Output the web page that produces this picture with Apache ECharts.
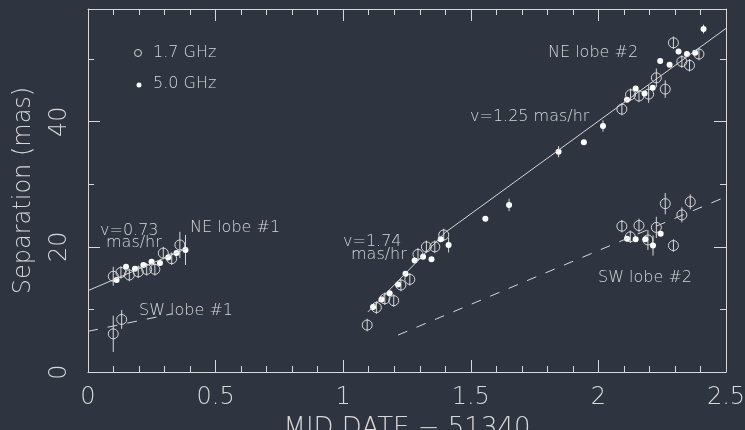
<!DOCTYPE html>
<html>
<head>
<meta charset="utf-8">
<script src="https://cdn.jsdelivr.net/npm/echarts@6/dist/echarts.min.js"></script>
<style>
  html, body { margin: 0; padding: 0; background: #2e3440; }
  #chart { width: 745px; height: 430px; }
</style>
</head>
<body>
<div id="chart"></div>
<script>
let d = document;

// [MJD - 51340, separation (mas), error (mas)]
// 1.7 GHz (open circles)
const ne1Open = [[0.099,15.3,1.5],[0.129,15.9,1.0],[0.162,15.5,1.0],[0.197,16.0,1.0],[0.230,16.4,1.0],[0.262,16.4,1.0],[0.295,19.0,1.0],[0.328,18.1,1.0],[0.360,20.3,2.1]];
const sw1Open = [[0.099,6.1,2.9],[0.132,8.4,1.5]];
const ne2Open = [[1.094,7.5,1.0],[1.130,10.3,1.0],[1.163,11.7,1.0],[1.198,11.4,1.0],[1.226,13.9,1.0],[1.261,14.8,1.0],[1.293,18.8,1.0],[1.326,20.0,1.0],[1.359,20.0,1.0],[1.394,21.9,1.0],
  [2.092,42.0,1.0],[2.126,44.3,1.0],[2.159,44.1,1.0],[2.197,44.4,1.4],[2.227,47.0,1.5],[2.262,45.2,1.4],[2.294,52.6,1.0],[2.327,49.6,1.0],[2.357,49.0,1.0],[2.394,50.8,1.0]];
const sw2Open = [[2.092,23.3,1.0],[2.125,21.6,1.0],[2.159,23.4,1.1],[2.194,21.1,1.6],[2.227,23.1,1.7],[2.262,26.9,1.7],[2.294,20.2,1.0],[2.327,25.1,1.2],[2.360,27.2,1.2]];

// 5.0 GHz (filled dots)
const ne1Dot = [[0.112,14.7,0],[0.149,16.8,0],[0.184,16.5,0],[0.217,17.1,0],[0.249,17.6,0],[0.282,17.4,0],[0.314,18.3,0],[0.347,19.0,0],[0.382,19.5,2.4]];
const ne2Dot = [[1.117,10.4,0],[1.150,11.6,0],[1.182,12.6,0],[1.215,14.0,0],[1.244,15.7,0],[1.280,17.8,0],[1.313,18.4,0],[1.346,18.0,0],[1.382,21.2,0],[1.413,20.3,1.2],
  [1.557,24.5,0],[1.650,26.7,1.0],[1.844,35.2,0.9],[1.943,36.7,0],[2.018,39.3,0.9],
  [2.112,43.5,0],[2.146,45.3,0],[2.181,44.5,0],[2.213,45.4,0],[2.242,49.7,0],[2.279,49.1,0],[2.314,51.2,0],[2.347,50.8,0],[2.379,51.0,0],[2.412,54.8,0.7]];
const sw2Dot = [[2.112,21.3,0],[2.146,21.2,0],[2.184,21.2,0],[2.214,20.2,1.6],[2.244,22.1,0]];

// fitted motions
const ne1Fit = [[0, 13.0], [0.39, 19.8]];
const sw1Fit = [[0, 6.5], [0.33, 9.3]];
const ne2FitA = [[1.097, 9.6], [1.40, 22.3]];
const ne2FitB = [[1.40, 22.3], [2.5, 54.9]];
const sw2Fit = [[1.215, 5.9], [2.5, 28.0]];

const xTicks = [0, 0.5, 1, 1.5, 2, 2.5];
const yTicks = [0, 20, 40];

const ink = "#d8d8d8";
const thin = "DejaVu Sans";

function pts(filled) {
  return function (params, api) {
    let x = api.value(0), y = api.value(1), e = api.value(2);
    let p = api.coord([x, y]);
    let kids = [];
    if (e > 0) {
      let t = api.coord([x, y + e]);
      let b = api.coord([x, y - e]);
      kids.push({ type: "line", shape: { x1: p[0], y1: t[1], x2: p[0], y2: b[1] },
        style: { stroke: ink, lineWidth: 1 } });
    }
    if (filled) {
      kids.push({ type: "circle", shape: { cx: p[0], cy: p[1], r: 3 }, style: { fill: "#ffffff" } });
    } else {
      kids.push({ type: "circle", shape: { cx: p[0], cy: p[1], r: 5 }, style: { fill: "none", stroke: ink, lineWidth: 1 } });
    }
    return { type: "group", children: kids };
  };
}

function ptSeries(data, filled) {
  return { type: "custom", renderItem: pts(filled), data: data, silent: true, z: 3 };
}

function fitSeries(data, dashed) {
  return { type: "line", data: data, symbol: "none", silent: true,
    lineStyle: { color: ink, width: 1, type: dashed ? [10, 10] : "solid" } };
}

function yAx(pos, interval, len, labels) {
  return {
    type: "value", position: pos, min: 0, max: 58, interval: interval,
    axisLine: { show: interval === 20, lineStyle: { color: ink, width: 1 } },
    axisTick: { show: true, inside: true, length: len, lineStyle: { color: ink } },
    axisLabel: labels ? {
      show: true, rotate: 90, margin: 16, color: ink, fontSize: 24, fontFamily: thin, fontWeight: 200,
      showMaxLabel: false,
      formatter: (v) => (yTicks.indexOf(v) >= 0 ? String(v) : "")
    } : { show: false },
    splitLine: { show: false },
    name: labels ? "Separation (mas)" : "",
    nameLocation: "middle", nameGap: 52,
    nameTextStyle: { color: ink, fontSize: 24, fontFamily: thin, fontWeight: 200 }
  };
}

function xAx(pos, labels) {
  return {
    type: "value", position: pos, min: 0, max: 2.5, interval: 0.5,
    axisLine: { show: true, onZero: false, lineStyle: { color: ink, width: 1 } },
    axisTick: { show: true, inside: true, length: 12, lineStyle: { color: ink } },
    minorTick: { show: true, splitNumber: 5, length: 6, lineStyle: { color: ink } },
    axisLabel: labels ? {
      show: true, margin: 14, color: ink, fontSize: 24, fontFamily: thin, fontWeight: 200,
      formatter: (v) => (xTicks.indexOf(v) >= 0 ? String(v) : "")
    } : { show: false },
    splitLine: { show: false },
    name: labels ? "MJD DATE \u2212 51340" : "",
    nameLocation: "middle", nameGap: 44,
    nameTextStyle: { color: ink, fontSize: 26, fontFamily: thin, fontWeight: 200 }
  };
}

function txt(x, y, s) {
  return { type: "text", left: x, top: y - 9, silent: true,
    style: { text: s, fill: ink, fontSize: 16, fontFamily: thin, fontWeight: 200 } };
}

let chart = echarts.init(d.getElementById("chart"), null, { renderer: "canvas" });

chart.setOption({
  backgroundColor: "#2e3440",
  animation: false,
  grid: { left: 88, top: 9, right: 19, bottom: 58, containLabel: false, outerBoundsMode: "none" },
  xAxis: [xAx("bottom", true), xAx("top", false)],
  yAxis: [yAx("left", 20, 12, true), yAx("left", 10, 6, false), yAx("right", 20, 12, false), yAx("right", 10, 6, false)],
  series: [
    fitSeries(ne1Fit, false),
    fitSeries(sw1Fit, true),
    fitSeries(ne2FitA, false),
    fitSeries(ne2FitB, false),
    fitSeries(sw2Fit, true),
    ptSeries(ne1Open, false),
    ptSeries(sw1Open, false),
    ptSeries(ne2Open, false),
    ptSeries(sw2Open, false),
    ptSeries(ne1Dot, true),
    ptSeries(ne2Dot, true),
    ptSeries(sw2Dot, true)
  ],
  graphic: [
    { type: "circle", shape: { cx: 138, cy: 53, r: 3.5 }, style: { fill: "none", stroke: ink, lineWidth: 1 }, silent: true },
    { type: "circle", shape: { cx: 139, cy: 85, r: 2.5 }, style: { fill: "#ffffff" }, silent: true },
    txt(153, 54, "1.7 GHz"),
    txt(153, 85, "5.0 GHz"),
    txt(190, 229, "NE lobe #1"),
    txt(100, 232, "v=0.73"),
    txt(106, 244, "mas/hr"),
    txt(139, 312, "SW lobe #1"),
    txt(343, 243, "v=1.74"),
    txt(351, 256, "mas/hr"),
    txt(548, 54, "NE lobe #2"),
    txt(470, 118, "v=1.25 mas/hr"),
    txt(598, 279, "SW lobe #2")
  ]
});
</script>
</body>
</html>
